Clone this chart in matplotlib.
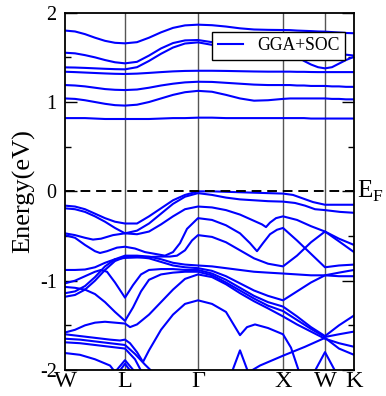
import matplotlib
matplotlib.use("Agg")
import matplotlib.pyplot as plt

plt.rcParams['font.family'] = ['Liberation Serif', 'DejaVu Serif']
plt.rcParams['axes.unicode_minus'] = False

# high-symmetry points along the path (cumulative path length, arbitrary units)
sym_points = [0, 60, 133, 218, 260, 289]
sym_labels = ['W', 'L', '\u0393', 'X', 'W', 'K']

# conduction bands: common k sampling
k_cond = [0, 10, 20, 30, 40, 50, 60, 72, 84, 96, 108, 120, 133,
          147, 161, 175, 189, 203, 218, 225, 232, 239, 246, 253, 260,
          267, 274, 281, 289]
conduction_bands = [
    [0.82, 0.82, 0.82, 0.815, 0.81, 0.81, 0.81, 0.81, 0.81, 0.815, 0.82, 0.82, 0.825,
     0.825, 0.82, 0.82, 0.82, 0.82, 0.82, 0.82, 0.82, 0.82, 0.815, 0.815, 0.815,
     0.815, 0.815, 0.815, 0.815],
    [1.04, 1.035, 1.02, 1.0, 0.98, 0.965, 0.96, 0.97, 1.0, 1.04, 1.08, 1.11, 1.125,
     1.115, 1.08, 1.04, 1.015, 1.02, 1.035, 1.04, 1.04, 1.04, 1.04, 1.04, 1.04,
     1.035, 1.035, 1.03, 1.03],
    [1.19, 1.185, 1.175, 1.16, 1.145, 1.137, 1.134, 1.14, 1.16, 1.185, 1.205, 1.22, 1.227,
     1.225, 1.215, 1.205, 1.195, 1.19, 1.19, 1.19, 1.185, 1.185, 1.18, 1.18, 1.18,
     1.175, 1.175, 1.17, 1.17],
    [1.339, 1.335, 1.33, 1.325, 1.32, 1.316, 1.314, 1.318, 1.326, 1.335, 1.343, 1.348, 1.35,
     1.35, 1.348, 1.345, 1.342, 1.34, 1.34, 1.34, 1.338, 1.338, 1.336, 1.335, 1.335,
     1.335, 1.335, 1.335, 1.335],
    [1.388, 1.386, 1.382, 1.377, 1.372, 1.368, 1.366, 1.39, 1.46, 1.54, 1.61, 1.655, 1.668,
     1.64, 1.56, 1.49, 1.5, 1.53, 1.55, 1.54, 1.51, 1.46, 1.42, 1.39, 1.377,
     1.39, 1.43, 1.47, 1.507],
    [1.552, 1.545, 1.525, 1.5, 1.47, 1.445, 1.433, 1.45, 1.52, 1.6, 1.66, 1.69, 1.694,
     1.67, 1.6, 1.52, 1.54, 1.59, 1.62, 1.62, 1.61, 1.6, 1.58, 1.57, 1.56,
     1.55, 1.54, 1.53, 1.52],
    [1.80, 1.79, 1.76, 1.72, 1.685, 1.663, 1.657, 1.67, 1.72, 1.78, 1.83, 1.858, 1.866,
     1.86, 1.845, 1.825, 1.812, 1.808, 1.806, 1.805, 1.80, 1.797, 1.794, 1.79, 1.788,
     1.783, 1.778, 1.773, 1.77],
]

# valence bands: each band has its own k samples and energies (eV)
valence_k = [
    [0, 10, 20, 30, 40, 50, 60, 72, 84, 96, 108, 120, 133, 147, 161, 175, 189, 203, 218,
     228, 238, 248, 260, 275, 289],
    [0, 10, 20, 30, 40, 50, 60, 72, 84, 96, 108, 120, 133, 147, 161, 175, 189, 203, 218,
     230, 240, 250, 260, 275, 289],
    [0, 10, 20, 28, 36, 48, 60, 72, 84, 96, 108, 120, 133, 147, 161, 175, 189, 197, 201,
     205, 211, 218, 232, 246, 260, 274, 289],
    [0, 10, 20, 30, 35, 42, 52, 60, 70, 80, 90, 100, 108, 115, 122, 133, 147, 161, 175,
     185, 192, 198, 205, 212, 218, 232, 246, 260, 274, 289],
    [0, 10, 20, 30, 40, 50, 60, 72, 84, 96, 105, 112, 120, 127, 133, 147, 161, 175, 189,
     203, 218, 232, 246, 260, 274, 289],
    [0, 10, 20, 30, 40, 50, 60, 72, 84, 96, 108, 120, 133, 147, 161, 175, 189, 203, 218,
     232, 246, 260, 274, 289],
    [0, 10, 20, 30, 40, 50, 60, 72, 84, 96, 108, 120, 133, 147, 161, 175, 189, 203, 218,
     232, 246, 260, 274, 289],
    [0, 10, 20, 30, 36, 42, 50, 60, 68, 76, 84, 96, 108, 120, 133, 147, 161, 175, 189,
     203, 218, 232, 246, 260, 274, 289],
    [0, 10, 20, 30, 40, 50, 60, 68, 76, 84, 96, 108, 120, 133, 147, 161, 175, 189, 203,
     218, 232, 246, 260, 274, 289],
    [0, 10, 20, 30, 40, 50, 60, 65, 72, 84, 96, 108, 120, 133, 147, 161, 175, 189, 203,
     218, 232, 246, 260, 274, 289],
    [0, 15, 30, 45, 55, 60, 65, 72, 78, 84, 96, 108, 120, 133, 147, 161, 168, 175, 182,
     190, 203, 218, 226, 235],
    [0, 15, 30, 45, 60, 70, 80, 90],
    [0, 15, 30, 45, 60, 70, 78],
    [0, 15, 30, 45, 52],
    [48, 60, 72],
    [52, 60, 68],
    [166, 175, 184],
    [180, 195, 218, 240, 260, 274, 289],
    [248, 260, 272],
]
valence_e = [
    [-0.16, -0.17, -0.2, -0.25, -0.3, -0.34, -0.36, -0.36, -0.28, -0.19, -0.1, -0.04, 0.0,
     0.0, -0.005, -0.01, -0.015, -0.02, -0.025, -0.04, -0.08, -0.12, -0.15, -0.15, -0.15],
    [-0.19, -0.2, -0.23, -0.28, -0.34, -0.41, -0.47, -0.44, -0.36, -0.25, -0.14, -0.06, -0.02,
     -0.04, -0.07, -0.09, -0.1, -0.11, -0.115, -0.13, -0.16, -0.2, -0.21, -0.23, -0.24],
    [-0.47, -0.49, -0.52, -0.54, -0.53, -0.49, -0.47, -0.48, -0.45, -0.37, -0.28, -0.2, -0.17,
     -0.18, -0.21, -0.26, -0.33, -0.37, -0.40, -0.35, -0.3, -0.28, -0.32, -0.39, -0.45,
     -0.53, -0.60],
    [-0.49, -0.52, -0.6, -0.67, -0.69, -0.67, -0.63, -0.62, -0.64, -0.68, -0.7, -0.72, -0.68,
     -0.58, -0.42, -0.3, -0.32, -0.38, -0.47, -0.58, -0.67, -0.58, -0.48, -0.43, -0.41,
     -0.55, -0.7, -0.85, -0.83, -0.82],
    [-0.88, -0.88, -0.875, -0.85, -0.8, -0.76, -0.745, -0.74, -0.735, -0.73, -0.73, -0.72,
     -0.66, -0.55, -0.49, -0.51, -0.57, -0.66, -0.75, -0.81, -0.84, -0.72, -0.57, -0.45,
     -0.56, -0.68],
    [-1.14, -1.12, -1.06, -0.96, -0.84, -0.76, -0.72, -0.72, -0.73, -0.76, -0.8, -0.82, -0.83,
     -0.84, -0.86, -0.88, -0.9, -0.91, -0.92, -0.93, -0.94, -0.94, -0.91, -0.88],
    [-1.18, -1.16, -1.1, -1.0, -0.88, -0.78, -0.735, -0.735, -0.75, -0.79, -0.83, -0.85, -0.86,
     -0.89, -0.95, -1.03, -1.11, -1.17, -1.22, -1.12, -1.02, -0.94, -0.95, -0.95],
    [-1.03, -1.0, -0.95, -0.9, -0.88, -0.9, -1.02, -1.19, -1.05, -0.93, -0.88, -0.87, -0.87,
     -0.88, -0.88, -0.92, -0.99, -1.08, -1.17, -1.24, -1.29, -1.4, -1.52, -1.62, -1.5,
     -1.39],
    [-1.07, -1.08, -1.1, -1.15, -1.24, -1.35, -1.45, -1.3, -1.12, -0.99, -0.93, -0.91, -0.9,
     -0.9, -0.94, -1.02, -1.11, -1.2, -1.28, -1.34, -1.44, -1.54, -1.63, -1.6, -1.57],
    [-1.58, -1.55, -1.5, -1.47, -1.46, -1.47, -1.48, -1.52, -1.49, -1.38, -1.24, -1.1, -0.98,
     -0.93, -0.96, -1.04, -1.14, -1.23, -1.31, -1.4, -1.49, -1.57, -1.65, -1.7, -1.74],
    [-1.6, -1.62, -1.64, -1.66, -1.67, -1.66, -1.7, -1.8, -1.91, -1.78, -1.55, -1.38, -1.26,
     -1.22, -1.26, -1.35, -1.48, -1.61, -1.52, -1.49, -1.53, -1.6, -1.75, -2.05],
    [-1.65, -1.66, -1.68, -1.7, -1.72, -1.82, -1.94, -2.05],
    [-1.69, -1.7, -1.72, -1.74, -1.76, -1.88, -2.05],
    [-1.81, -1.83, -1.88, -1.95, -2.05],
    [-2.05, -1.89, -2.05],
    [-2.05, -1.93, -2.05],
    [-2.05, -1.78, -2.05],
    [-2.05, -1.95, -1.84, -1.74, -1.64, -1.76, -1.83],
    [-2.05, -1.8, -2.05],
]

fig = plt.figure(figsize=(3.86, 3.96), dpi=100)
ax = fig.add_axes([65 / 386, 26 / 396, 289 / 386, 357.3 / 396])

blue = '#0000ff'
for i, band in enumerate(conduction_bands):
    ax.plot(k_cond, band, color=blue, lw=1.5,
            label='GGA+SOC' if i == 0 else None)
for ks, es in zip(valence_k, valence_e):
    ax.plot(ks, es, color=blue, lw=1.5)

for kp in sym_points[1:-1]:
    ax.axvline(kp, color='#555555', lw=1.0, zorder=0)
ax.axhline(0, color='black', lw=1.4, ls=(0, (5, 3)))

ax.set_xlim(sym_points[0], sym_points[-1])
ax.set_ylim(-2, 2)
ax.set_xticks(sym_points)
ax.set_xticklabels(sym_labels, fontsize=17.5)
ax.tick_params(axis='x', length=0, pad=1)
ax.set_yticks([-2, -1, 0, 1, 2])
ax.set_yticks([-1.5, -0.5, 0.5, 1.5], minor=True)
ax.tick_params(axis='y', which='major', direction='in', length=8.5, width=1.0,
               right=True, labelsize=14.5, pad=6)
ax.tick_params(axis='y', which='minor', direction='in', length=4.3, width=1.0, right=True)
for s in ax.spines.values():
    s.set_linewidth(1.3)
ax.set_ylabel('Energy(eV)', fontsize=19, labelpad=3)
ax.text(1.012, 0, 'E$_\\mathregular{F}$', transform=ax.get_yaxis_transform(),
        fontsize=18, va='center', ha='left')

leg = ax.legend(loc='upper right', bbox_to_anchor=(0.969, 0.946), borderaxespad=0,
                fontsize=12.7, frameon=True, fancybox=False, edgecolor='black',
                framealpha=1, handlelength=1.45, borderpad=0.3, handletextpad=0.8)
leg.get_frame().set_linewidth(1.0)
leg.set_zorder(5)

fig.savefig('out.png', dpi=100)
